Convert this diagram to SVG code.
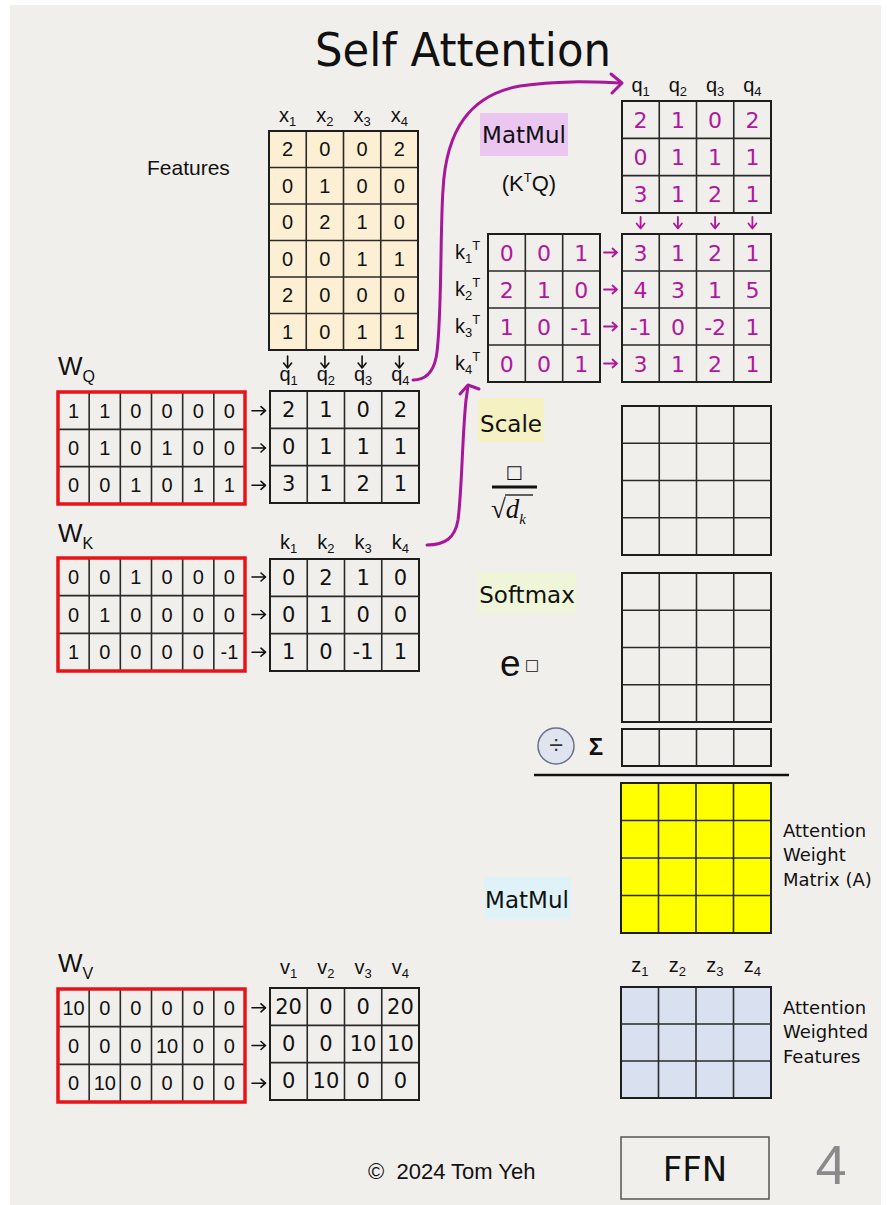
<svg xmlns="http://www.w3.org/2000/svg" width="887" height="1205" viewBox="0 0 887 1205">
<defs>
<style>
.g{fill:none;stroke:#1e1e1e;stroke-width:2}
.gl{fill:none;stroke:#2a2a2a;stroke-width:1.6}
.r{fill:none;stroke:#e8141a;stroke-width:3.5}
.n{font-family:"Liberation Sans",Arial,sans-serif;font-size:20px;text-anchor:middle;fill:#111}
.hb{font-family:"DejaVu Sans",sans-serif;font-size:21px;text-anchor:middle;fill:#111}
.m{font-family:"DejaVu Sans",sans-serif;font-size:22px;text-anchor:middle;fill:#b0179c}
.lb{font-family:"Liberation Sans",Arial,sans-serif;font-size:20px;text-anchor:middle;fill:#111}
.hw{font-family:"DejaVu Sans",sans-serif;fill:#111}
.ab{fill:none;stroke:#111;stroke-width:1.6;stroke-linecap:round;stroke-linejoin:round}
.am{fill:none;stroke:#b0179c;stroke-width:1.8;stroke-linecap:round;stroke-linejoin:round}
.cv{fill:none;stroke:#a8169a;stroke-width:3;stroke-linecap:round;stroke-linejoin:round}
</style>
</defs>
<rect x="0" y="0" width="887" height="1205" fill="#ffffff"/>
<rect x="10" y="5" width="871" height="1200" fill="#f1efec"/>

<text x="463" y="66" class="hw" font-size="46" text-anchor="middle" textLength="296" lengthAdjust="spacingAndGlyphs">Self Attention</text>

<g id="features">
<text x="147" y="175" font-family="Liberation Sans, Arial, sans-serif" font-size="21" fill="#111">Features</text>
<g class="lb">
<text x="287.6" y="122">x<tspan font-size="13" dy="4">1</tspan></text>
<text x="324.9" y="122">x<tspan font-size="13" dy="4">2</tspan></text>
<text x="362.1" y="122">x<tspan font-size="13" dy="4">3</tspan></text>
<text x="399.4" y="122">x<tspan font-size="13" dy="4">4</tspan></text>
</g>
<rect x="269" y="131" width="149" height="219" fill="#fcefd3"/>
<path class="gl" d="M306.25,131V350M343.5,131V350M380.75,131V350M269,167.5H418M269,204H418M269,240.5H418M269,277H418M269,313.5H418"/>
<rect x="269" y="131" width="149" height="219" class="g"/>
<g class="n">
<text x="287.6" y="156.3">2</text><text x="324.9" y="156.3">0</text><text x="362.1" y="156.3">0</text><text x="399.4" y="156.3">2</text>
<text x="287.6" y="192.8">0</text><text x="324.9" y="192.8">1</text><text x="362.1" y="192.8">0</text><text x="399.4" y="192.8">0</text>
<text x="287.6" y="229.3">0</text><text x="324.9" y="229.3">2</text><text x="362.1" y="229.3">1</text><text x="399.4" y="229.3">0</text>
<text x="287.6" y="265.8">0</text><text x="324.9" y="265.8">0</text><text x="362.1" y="265.8">1</text><text x="399.4" y="265.8">1</text>
<text x="287.6" y="302.3">2</text><text x="324.9" y="302.3">0</text><text x="362.1" y="302.3">0</text><text x="399.4" y="302.3">0</text>
<text x="287.6" y="338.8">1</text><text x="324.9" y="338.8">0</text><text x="362.1" y="338.8">1</text><text x="399.4" y="338.8">1</text>
</g>
</g>

<g id="WQ">
<text x="58" y="375" font-family="Liberation Sans, Arial, sans-serif" font-size="26" fill="#111">W<tspan font-size="16" dy="7">Q</tspan></text>
<path class="gl" d="M89.17,392V504M120.33,392V504M151.5,392V504M182.67,392V504M213.83,392V504M58,429.33H245M58,466.67H245"/>
<rect x="58" y="392" width="187" height="112" class="r"/>
<g class="n">
<text x="73.6" y="417.7">1</text><text x="104.75" y="417.7">1</text><text x="135.9" y="417.7">0</text><text x="167.1" y="417.7">0</text><text x="198.25" y="417.7">0</text><text x="229.4" y="417.7">0</text>
<text x="73.6" y="455">0</text><text x="104.75" y="455">1</text><text x="135.9" y="455">0</text><text x="167.1" y="455">1</text><text x="198.25" y="455">0</text><text x="229.4" y="455">0</text>
<text x="73.6" y="492.3">0</text><text x="104.75" y="492.3">0</text><text x="135.9" y="492.3">1</text><text x="167.1" y="492.3">0</text><text x="198.25" y="492.3">1</text><text x="229.4" y="492.3">1</text>
</g>
</g>

<g id="Q">
<g class="lb">
<text x="288.6" y="381">q<tspan font-size="13" dy="4">1</tspan></text>
<text x="325.9" y="381">q<tspan font-size="13" dy="4">2</tspan></text>
<text x="363.1" y="381">q<tspan font-size="13" dy="4">3</tspan></text>
<text x="400.4" y="381">q<tspan font-size="13" dy="4">4</tspan></text>
</g>
<path class="gl" d="M307.25,391V503M344.5,391V503M381.75,391V503M270,428.33H419M270,465.67H419"/>
<rect x="270" y="391" width="149" height="112" class="g"/>
<g class="hb">
<text x="288.6" y="416.7">2</text><text x="325.9" y="416.7">1</text><text x="363.1" y="416.7">0</text><text x="400.4" y="416.7">2</text>
<text x="288.6" y="454">0</text><text x="325.9" y="454">1</text><text x="363.1" y="454">1</text><text x="400.4" y="454">1</text>
<text x="288.6" y="491.3">3</text><text x="325.9" y="491.3">1</text><text x="363.1" y="491.3">2</text><text x="400.4" y="491.3">1</text>
</g>
</g>

<g id="WK">
<text x="58" y="542" font-family="Liberation Sans, Arial, sans-serif" font-size="26" fill="#111">W<tspan font-size="16" dy="7">K</tspan></text>
<path class="gl" d="M89.17,558V671M120.33,558V671M151.5,558V671M182.67,558V671M213.83,558V671M58,595.67H245M58,633.33H245"/>
<rect x="58" y="558" width="187" height="113" class="r"/>
<g class="n">
<text x="73.6" y="583.8">0</text><text x="104.75" y="583.8">0</text><text x="135.9" y="583.8">1</text><text x="167.1" y="583.8">0</text><text x="198.25" y="583.8">0</text><text x="229.4" y="583.8">0</text>
<text x="73.6" y="621.5">0</text><text x="104.75" y="621.5">1</text><text x="135.9" y="621.5">0</text><text x="167.1" y="621.5">0</text><text x="198.25" y="621.5">0</text><text x="229.4" y="621.5">0</text>
<text x="73.6" y="659.2">1</text><text x="104.75" y="659.2">0</text><text x="135.9" y="659.2">0</text><text x="167.1" y="659.2">0</text><text x="198.25" y="659.2">0</text><text x="229.4" y="659.2">-1</text>
</g>
</g>

<g id="K">
<g class="lb">
<text x="288.6" y="549">k<tspan font-size="13" dy="4">1</tspan></text>
<text x="325.9" y="549">k<tspan font-size="13" dy="4">2</tspan></text>
<text x="363.1" y="549">k<tspan font-size="13" dy="4">3</tspan></text>
<text x="400.4" y="549">k<tspan font-size="13" dy="4">4</tspan></text>
</g>
<path class="gl" d="M307.25,559V671M344.5,559V671M381.75,559V671M270,596.33H419M270,633.67H419"/>
<rect x="270" y="559" width="149" height="112" class="g"/>
<g class="hb">
<text x="288.6" y="584.7">0</text><text x="325.9" y="584.7">2</text><text x="363.1" y="584.7">1</text><text x="400.4" y="584.7">0</text>
<text x="288.6" y="622">0</text><text x="325.9" y="622">1</text><text x="363.1" y="622">0</text><text x="400.4" y="622">0</text>
<text x="288.6" y="659.3">1</text><text x="325.9" y="659.3">0</text><text x="363.1" y="659.3">-1</text><text x="400.4" y="659.3">1</text>
</g>
</g>

<g id="WV">
<text x="58" y="972" font-family="Liberation Sans, Arial, sans-serif" font-size="26" fill="#111">W<tspan font-size="16" dy="7">V</tspan></text>
<path class="gl" d="M89.17,989V1102M120.33,989V1102M151.5,989V1102M182.67,989V1102M213.83,989V1102M58,1026.67H245M58,1064.33H245"/>
<rect x="58" y="989" width="187" height="113" class="r"/>
<g class="n">
<text x="73.6" y="1014.8">10</text><text x="104.75" y="1014.8">0</text><text x="135.9" y="1014.8">0</text><text x="167.1" y="1014.8">0</text><text x="198.25" y="1014.8">0</text><text x="229.4" y="1014.8">0</text>
<text x="73.6" y="1052.5">0</text><text x="104.75" y="1052.5">0</text><text x="135.9" y="1052.5">0</text><text x="167.1" y="1052.5">10</text><text x="198.25" y="1052.5">0</text><text x="229.4" y="1052.5">0</text>
<text x="73.6" y="1090.2">0</text><text x="104.75" y="1090.2">10</text><text x="135.9" y="1090.2">0</text><text x="167.1" y="1090.2">0</text><text x="198.25" y="1090.2">0</text><text x="229.4" y="1090.2">0</text>
</g>
</g>

<g id="V">
<g class="lb">
<text x="288.6" y="974">v<tspan font-size="13" dy="4">1</tspan></text>
<text x="325.9" y="974">v<tspan font-size="13" dy="4">2</tspan></text>
<text x="363.1" y="974">v<tspan font-size="13" dy="4">3</tspan></text>
<text x="400.4" y="974">v<tspan font-size="13" dy="4">4</tspan></text>
</g>
<path class="gl" d="M307.25,988V1100M344.5,988V1100M381.75,988V1100M270,1025.33H419M270,1062.67H419"/>
<rect x="270" y="988" width="149" height="112" class="g"/>
<g class="hb">
<text x="288.6" y="1013.7">20</text><text x="325.9" y="1013.7">0</text><text x="363.1" y="1013.7">0</text><text x="400.4" y="1013.7">20</text>
<text x="288.6" y="1051">0</text><text x="325.9" y="1051">0</text><text x="363.1" y="1051">10</text><text x="400.4" y="1051">10</text>
<text x="288.6" y="1088.3">0</text><text x="325.9" y="1088.3">10</text><text x="363.1" y="1088.3">0</text><text x="400.4" y="1088.3">0</text>
</g>
</g>

<g id="matmul-label">
<rect x="480" y="113" width="88" height="43" fill="#ebc6f0"/>
<text x="524" y="143" class="hw" font-size="23" text-anchor="middle">MatMul</text>
<text x="529" y="191" font-family="Liberation Sans, Arial, sans-serif" font-size="22" fill="#111" text-anchor="middle">(K<tspan font-size="13" dy="-9">T</tspan><tspan dy="9">Q)</tspan></text>
</g>

<g id="Qtop">
<g class="lb">
<text x="640.6" y="92">q<tspan font-size="13" dy="4">1</tspan></text>
<text x="677.9" y="92">q<tspan font-size="13" dy="4">2</tspan></text>
<text x="715.1" y="92">q<tspan font-size="13" dy="4">3</tspan></text>
<text x="752.4" y="92">q<tspan font-size="13" dy="4">4</tspan></text>
</g>
<path class="gl" d="M659.25,101V213M696.5,101V213M733.75,101V213M622,138.33H771M622,175.67H771"/>
<rect x="622" y="101" width="149" height="112" class="g"/>
<g class="m">
<text x="640.6" y="127.7">2</text><text x="677.9" y="127.7">1</text><text x="715.1" y="127.7">0</text><text x="752.4" y="127.7">2</text>
<text x="640.6" y="165">0</text><text x="677.9" y="165">1</text><text x="715.1" y="165">1</text><text x="752.4" y="165">1</text>
<text x="640.6" y="202.3">3</text><text x="677.9" y="202.3">1</text><text x="715.1" y="202.3">2</text><text x="752.4" y="202.3">1</text>
</g>
</g>

<g id="KT">
<g font-family="Liberation Sans, Arial, sans-serif" font-size="20" fill="#111">
<text x="455" y="259">k<tspan font-size="13" dy="4">1</tspan><tspan font-size="13" dy="-13">T</tspan></text>
<text x="455" y="296">k<tspan font-size="13" dy="4">2</tspan><tspan font-size="13" dy="-13">T</tspan></text>
<text x="455" y="333">k<tspan font-size="13" dy="4">3</tspan><tspan font-size="13" dy="-13">T</tspan></text>
<text x="455" y="370">k<tspan font-size="13" dy="4">4</tspan><tspan font-size="13" dy="-13">T</tspan></text>
</g>
<path class="gl" d="M525.33,234V382M562.67,234V382M488,271H600M488,308H600M488,345H600"/>
<rect x="488" y="234" width="112" height="148" class="g"/>
<g class="m">
<text x="506.7" y="260.5">0</text><text x="544" y="260.5">0</text><text x="581.3" y="260.5">1</text>
<text x="506.7" y="297.5">2</text><text x="544" y="297.5">1</text><text x="581.3" y="297.5">0</text>
<text x="506.7" y="334.5">1</text><text x="544" y="334.5">0</text><text x="581.3" y="334.5">-1</text>
<text x="506.7" y="371.5">0</text><text x="544" y="371.5">0</text><text x="581.3" y="371.5">1</text>
</g>
</g>

<g id="KTQ">
<path class="gl" d="M659.25,234V382M696.5,234V382M733.75,234V382M622,271H771M622,308H771M622,345H771"/>
<rect x="622" y="234" width="149" height="148" class="g"/>
<g class="m">
<text x="640.6" y="260.5">3</text><text x="677.9" y="260.5">1</text><text x="715.1" y="260.5">2</text><text x="752.4" y="260.5">1</text>
<text x="640.6" y="297.5">4</text><text x="677.9" y="297.5">3</text><text x="715.1" y="297.5">1</text><text x="752.4" y="297.5">5</text>
<text x="640.6" y="334.5">-1</text><text x="677.9" y="334.5">0</text><text x="715.1" y="334.5">-2</text><text x="752.4" y="334.5">1</text>
<text x="640.6" y="371.5">3</text><text x="677.9" y="371.5">1</text><text x="715.1" y="371.5">2</text><text x="752.4" y="371.5">1</text>
</g>
</g>

<g id="scale">
<rect x="478" y="398" width="66" height="44" fill="#f6f1c2"/>
<text x="511" y="432" class="hw" font-size="23" text-anchor="middle">Scale</text>
<text x="514" y="478" font-family="DejaVu Sans, sans-serif" font-size="18" fill="#111" text-anchor="middle">□</text>
<path d="M492,487H537" stroke="#111" stroke-width="3"/>
<text x="491" y="518" font-family="Liberation Serif, serif" font-size="27" fill="#111">√<tspan font-style="italic">d</tspan><tspan font-style="italic" font-size="15" dy="6">k</tspan></text>
<path d="M505,495H533" stroke="#111" stroke-width="1.3"/>
<path class="gl" d="M659.25,406V555M696.5,406V555M733.75,406V555M622,443.25H771M622,480.5H771M622,517.75H771"/>
<rect x="622" y="406" width="149" height="149" class="g"/>
</g>

<g id="softmax">
<rect x="478" y="572" width="99" height="41" fill="#eef5d8"/>
<text x="527" y="603" class="hw" font-size="23" text-anchor="middle">Softmax</text>
<text x="500" y="676" font-family="Liberation Sans, Arial, sans-serif" font-size="37" fill="#111">e</text>
<text x="532" y="670" font-family="DejaVu Sans, sans-serif" font-size="15" fill="#111" text-anchor="middle">□</text>
<path class="gl" d="M659.25,573V722M696.5,573V722M733.75,573V722M622,610.25H771M622,647.5H771M622,684.75H771"/>
<rect x="622" y="573" width="149" height="149" class="g"/>
</g>

<g id="sum">
<circle cx="556" cy="746" r="18" fill="#dfe4ee" stroke="#66708a" stroke-width="1.5"/>
<text x="556" y="754" font-family="Liberation Sans, Arial, sans-serif" font-size="25" fill="#333" text-anchor="middle">÷</text>
<text x="596" y="755" font-family="Liberation Sans, Arial, sans-serif" font-size="24" font-weight="bold" fill="#111" text-anchor="middle">Σ</text>
<path class="gl" d="M659.25,729V766M696.5,729V766M733.75,729V766"/>
<rect x="622" y="729" width="149" height="37" class="g"/>
<path d="M534,775H789" stroke="#111" stroke-width="2.5"/>
</g>

<g id="A">
<rect x="621" y="783" width="150" height="150" fill="#ffff00"/>
<path class="gl" d="M658.5,783V933M696,783V933M733.5,783V933M621,820.5H771M621,858H771M621,895.5H771"/>
<rect x="621" y="783" width="150" height="150" class="g"/>
<g class="hw" font-size="18">
<text x="783" y="837">Attention</text>
<text x="783" y="861">Weight</text>
<text x="783" y="886">Matrix (A)</text>
</g>
</g>

<g id="matmul2-label">
<rect x="484" y="877" width="87" height="42" fill="#dff2f8"/>
<text x="527" y="908" class="hw" font-size="23" text-anchor="middle">MatMul</text>
</g>

<g id="Z">
<g class="lb">
<text x="639.75" y="972">z<tspan font-size="13" dy="4">1</tspan></text>
<text x="677.25" y="972">z<tspan font-size="13" dy="4">2</tspan></text>
<text x="714.75" y="972">z<tspan font-size="13" dy="4">3</tspan></text>
<text x="752.25" y="972">z<tspan font-size="13" dy="4">4</tspan></text>
</g>
<rect x="621" y="987" width="150" height="111" fill="#d9e1f1"/>
<path class="gl" d="M658.5,987V1098M696,987V1098M733.5,987V1098M621,1024H771M621,1061H771"/>
<rect x="621" y="987" width="150" height="111" class="g"/>
<g class="hw" font-size="18">
<text x="783" y="1014">Attention</text>
<text x="783" y="1038">Weighted</text>
<text x="783" y="1063">Features</text>
</g>
</g>

<g id="footer">
<text x="368" y="1179" font-family="Liberation Sans, Arial, sans-serif" font-size="22" fill="#111">©&#160; 2024 Tom Yeh</text>
<rect x="621" y="1137" width="148" height="62" fill="none" stroke="#555" stroke-width="1.5"/>
<text x="695" y="1181" class="hw" font-size="34" text-anchor="middle">FFN</text>
<text x="831" y="1184" font-family="Liberation Sans, Arial, sans-serif" font-size="56" fill="#8a8a8a" text-anchor="middle">4</text>
</g>

<g id="connectors">
<g class="ab">
<path d="M287.6,356v12M283.6,363l4,5l4,-5"/>
<path d="M324.9,356v12M320.9,363l4,5l4,-5"/>
<path d="M362.1,356v12M358.1,363l4,5l4,-5"/>
<path d="M399.4,356v12M395.4,363l4,5l4,-5"/>
<path d="M252,410.7h13M261,406.7l4.5,4l-4.5,4"/>
<path d="M252,448h13M261,444l4.5,4l-4.5,4"/>
<path d="M252,485.3h13M261,481.3l4.5,4l-4.5,4"/>
<path d="M252,577h13M261,573l4.5,4l-4.5,4"/>
<path d="M252,614.5h13M261,610.5l4.5,4l-4.5,4"/>
<path d="M252,652.2h13M261,648.2l4.5,4l-4.5,4"/>
<path d="M252,1007.8h13M261,1003.8l4.5,4l-4.5,4"/>
<path d="M252,1045.5h13M261,1041.5l4.5,4l-4.5,4"/>
<path d="M252,1083.2h13M261,1079.2l4.5,4l-4.5,4"/>
</g>
<g class="am">
<path d="M640.6,217v11M636.6,223.5l4,5l4,-5"/>
<path d="M677.9,217v11M673.9,223.5l4,5l4,-5"/>
<path d="M715.1,217v11M711.1,223.5l4,5l4,-5"/>
<path d="M752.4,217v11M748.4,223.5l4,5l4,-5"/>
<path d="M604,252.5h13M612.5,248.5l4.5,4l-4.5,4"/>
<path d="M604,289.5h13M612.5,285.5l4.5,4l-4.5,4"/>
<path d="M604,326.5h13M612.5,322.5l4.5,4l-4.5,4"/>
<path d="M604,363.5h13M612.5,359.5l4.5,4l-4.5,4"/>
</g>
<path class="cv" d="M413,380C425,380 433,372 436,358C442,330 440,230 443,190C446,130 470,95 520,86C560,80 595,82 621,83"/>
<path class="cv" d="M611,74L622,83L612,93"/>
<path class="cv" d="M427,545C445,545 455,538 458,520C462,490 462,440 466,400L468,386"/>
<path class="cv" d="M460,394L468,385L479,389"/>
</g>
</svg>
